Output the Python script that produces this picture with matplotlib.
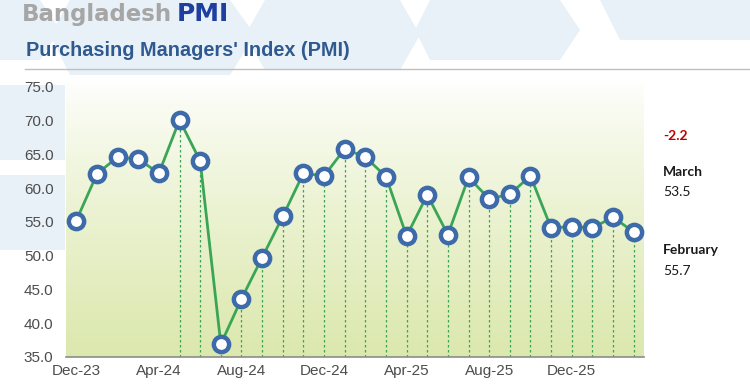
import matplotlib.pyplot as plt
import numpy as np
from matplotlib.patches import Polygon

months = ["Dec-23", "Jan-24", "Feb-24", "Mar-24", "Apr-24", "May-24", "Jun-24",
          "Jul-24", "Aug-24", "Sep-24", "Oct-24", "Nov-24", "Dec-24", "Jan-25",
          "Feb-25", "Mar-25", "Apr-25", "May-25", "Jun-25", "Jul-25", "Aug-25",
          "Sep-25", "Oct-25", "Nov-25", "Dec-25", "Jan-26", "Feb-26", "Mar-26"]
pmi = [55.2, 62.1, 64.6, 64.3, 62.2, 70.1, 64.0, 36.9, 43.6, 49.7, 55.8, 62.2,
       61.8, 65.8, 64.6, 61.7, 52.9, 59.0, 53.1, 61.6, 58.4, 59.1, 61.8, 54.1,
       54.3, 54.1, 55.7, 53.5]
tick_labels = ["Dec-23", "Apr-24", "Aug-24", "Dec-24", "Apr-25", "Aug-25", "Dec-25"]
first_drop = 5  # drop lines start at May-24

plt.rcParams["font.family"] = ["Liberation Sans", "DejaVu Sans"]

fig = plt.figure(figsize=(7.5, 3.9), dpi=100)
fig.patch.set_facecolor("white")

# decorative background hexagon shapes (pixel coords)
bg = fig.add_axes([0, 0, 1, 1], zorder=-5)
bg.set_xlim(0, 750)
bg.set_ylim(390, 0)
bg.axis("off")
shapes = [
    [(-10, 0), (40, 0), (60, 30), (40, 60), (-10, 60)],
    [(70, 0), (230, 0), (255, 35), (230, 75), (70, 75), (50, 35)],
    [(265, 0), (400, 0), (420, 35), (400, 70), (265, 70), (245, 35)],
    [(430, 0), (560, 0), (580, 30), (560, 60), (430, 60), (415, 30)],
    [(600, 0), (750, 0), (750, 40), (620, 40)],
    [(0, 85), (65, 85), (65, 160), (0, 160)],
    [(0, 175), (65, 175), (65, 250), (0, 250)],
]
for pts in shapes:
    bg.add_patch(Polygon(pts, closed=True, facecolor="#e8f0f8", edgecolor="none"))

ax = fig.add_axes([66 / 750, 1 - 357 / 390, (644 - 66) / 750, (357 - 80) / 390])
x = np.arange(len(pmi))
ax.set_xlim(-0.5, len(pmi) - 0.5)
ax.set_ylim(35, 76)

# gradient background: white at top to light yellow-green at bottom
grad = np.linspace(0, 1, 256).reshape(-1, 1)
top = np.array([1.0, 1.0, 1.0])
bot = np.array([0.86, 0.91, 0.68])
img = top + (bot - top) * grad[..., None] ** 0.8
img = np.repeat(img, 2, axis=1)
ax.imshow(img, extent=[-0.5, len(pmi) - 0.5, 35, 76], aspect="auto",
          origin="upper", zorder=0)

for i in range(first_drop, len(pmi)):
    ax.vlines(x[i], 35, pmi[i], colors="#3aa655", linestyles=(0, (2, 2)),
              linewidth=0.9, zorder=1)

ax.plot(x, pmi, color="#3aa655", linewidth=2, zorder=2)
ax.plot(x, pmi, linestyle="none", marker="o", markersize=11,
        markerfacecolor="white", markeredgecolor="#3d6aa8",
        markeredgewidth=3.2, zorder=3)

ax.set_yticks(np.arange(35, 76, 5))
ax.set_yticklabels([f"{v:.1f}" for v in np.arange(35, 76, 5)])
ax.set_xticks([months.index(m) for m in tick_labels])
ax.set_xticklabels(tick_labels)
ax.tick_params(axis="both", length=0, labelsize=11, colors="#4d4d4d")
ax.tick_params(axis="y", pad=9)
ax.tick_params(axis="x", pad=5)
for s in ["top", "right", "left"]:
    ax.spines[s].set_visible(False)
ax.spines["bottom"].set_color("#8c8c8c")
ax.spines["bottom"].set_linewidth(1.2)

# titles
title_font = ["DejaVu Sans"]
fig.text(22 / 750, 1 - 21 / 390, "Bangladesh", fontsize=16.5, fontweight="bold",
         color="#a6a6a6", va="baseline", family=title_font)
fig.text(177 / 750, 1 - 21 / 390, "PMI", fontsize=18, fontweight="bold",
         color="#1f3fa0", va="baseline", family=title_font)
fig.text(26 / 750, 1 - 50 / 390, "Purchasing Managers' Index (PMI)", fontsize=14.3,
         fontweight="bold", color="#2f5a8f", va="center")
fig.add_artist(plt.Line2D([25 / 750, 1], [1 - 69 / 390, 1 - 69 / 390],
                          color="#bfbfbf", linewidth=1))

# right-side annotations
rx = 663 / 750
side = ["Lato", "DejaVu Sans"]
fig.text(rx, 1 - 136 / 390, "-2.2", fontsize=10, fontweight="bold", color="#c00000",
         va="center", family=side)
fig.text(rx, 1 - 172 / 390, "March", fontsize=10, fontweight="bold", color="#1a1a1a",
         va="center", family=side)
fig.text(rx, 1 - 192 / 390, "53.5", fontsize=10, color="#1a1a1a", va="center", family=side)
fig.text(rx, 1 - 250 / 390, "February", fontsize=10, fontweight="bold", color="#1a1a1a",
         va="center", family=side)
fig.text(rx, 1 - 271 / 390, "55.7", fontsize=10, color="#1a1a1a", va="center", family=side)

fig.savefig("out.png", dpi=100)
